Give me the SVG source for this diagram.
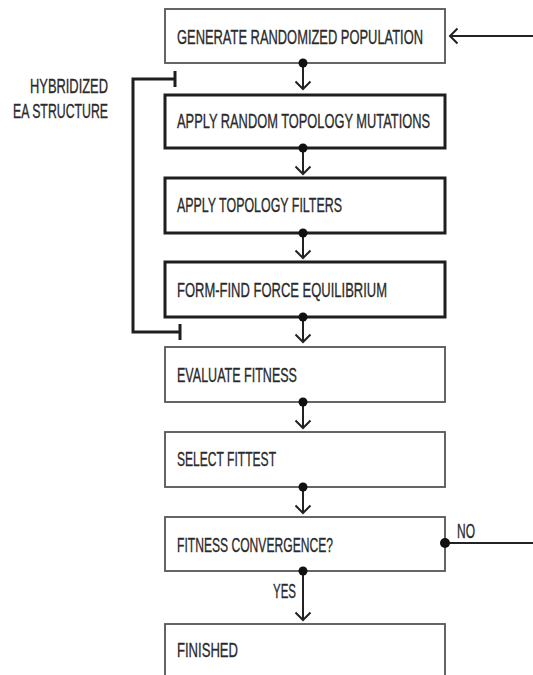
<svg xmlns="http://www.w3.org/2000/svg" width="533" height="675" viewBox="0 0 533 675">
<style>
.box{fill:#fff;stroke:#555;stroke-width:1.8}
.bold{stroke:#1e1e1e;stroke-width:3}
.t{font-family:"Liberation Sans",Arial,sans-serif;font-size:21px;fill:#2a2a2a;stroke:#2a2a2a;stroke-width:0.35}
.c{fill:none;stroke:#222;stroke-width:2}
.b{fill:none;stroke:#1e1e1e;stroke-width:3}
.dot{fill:#111}
</style>
<defs>
<marker id="ah" markerWidth="20" markerHeight="20" refX="10" refY="10" orient="auto" markerUnits="userSpaceOnUse">
<path d="M2.5,2.5 L10,10 L2.5,17.5" fill="none" stroke="#222" stroke-width="2"/>
</marker>
</defs>
<rect width="533" height="675" fill="#fff"/>
<g id="label-hybrid">
<text class="t" transform="translate(108,93) scale(0.62,1)" x="0" y="0" text-anchor="end" textLength="125.8" lengthAdjust="spacingAndGlyphs">HYBRIDIZED</text>
<text class="t" transform="translate(108,118) scale(0.62,1)" x="0" y="0" text-anchor="end" textLength="153.2" lengthAdjust="spacingAndGlyphs">EA STRUCTURE</text>
</g>
<g id="n1"><rect class="box" x="165" y="9" width="280" height="54"/><text class="t" transform="translate(177,44) scale(0.62,1)" textLength="396.8" lengthAdjust="spacingAndGlyphs">GENERATE RANDOMIZED POPULATION</text></g>
<g id="n2"><rect class="box bold" x="165" y="95" width="280" height="53"/><text class="t" transform="translate(177,128) scale(0.62,1)" textLength="408.1" lengthAdjust="spacingAndGlyphs">APPLY RANDOM TOPOLOGY MUTATIONS</text></g>
<g id="n3"><rect class="box bold" x="165" y="178" width="280" height="55"/><text class="t" transform="translate(177,212) scale(0.62,1)" textLength="266.1" lengthAdjust="spacingAndGlyphs">APPLY TOPOLOGY FILTERS</text></g>
<g id="n4"><rect class="box bold" x="165" y="262" width="280" height="55"/><text class="t" transform="translate(177,297) scale(0.62,1)" textLength="338.7" lengthAdjust="spacingAndGlyphs">FORM-FIND FORCE EQUILIBRIUM</text></g>
<g id="n5"><rect class="box" x="165" y="347" width="280" height="55"/><text class="t" transform="translate(177,382) scale(0.62,1)" textLength="193.5" lengthAdjust="spacingAndGlyphs">EVALUATE FITNESS</text></g>
<g id="n6"><rect class="box" x="165" y="432" width="280" height="55"/><text class="t" transform="translate(177,466) scale(0.62,1)" textLength="159.7" lengthAdjust="spacingAndGlyphs">SELECT FITTEST</text></g>
<g id="n7"><rect class="box" x="165" y="517" width="280" height="54"/><text class="t" transform="translate(177,552) scale(0.62,1)" textLength="251.6" lengthAdjust="spacingAndGlyphs">FITNESS CONVERGENCE?</text></g>
<g id="n8"><rect class="box" x="165" y="624" width="280" height="60"/><text class="t" transform="translate(177,657) scale(0.62,1)" textLength="98.4" lengthAdjust="spacingAndGlyphs">FINISHED</text></g>
<g id="connectors">
<path class="c" d="M303,63 V89" marker-end="url(#ah)"/><circle class="dot" cx="303" cy="63" r="4.5"/>
<path class="c" d="M303,148 V174" marker-end="url(#ah)"/><circle class="dot" cx="303" cy="148" r="4.5"/>
<path class="c" d="M303,233 V258" marker-end="url(#ah)"/><circle class="dot" cx="303" cy="233" r="4.5"/>
<path class="c" d="M303,317 V342" marker-end="url(#ah)"/><circle class="dot" cx="303" cy="317" r="4.5"/>
<path class="c" d="M303,402 V428" marker-end="url(#ah)"/><circle class="dot" cx="303" cy="402" r="4.5"/>
<path class="c" d="M303,487 V513" marker-end="url(#ah)"/><circle class="dot" cx="303" cy="487" r="4.5"/>
<path class="c" d="M303,571 V620" marker-end="url(#ah)"/><circle class="dot" cx="303" cy="571" r="4.5"/>
<text class="t" transform="translate(273,598) scale(0.62,1)" textLength="37.1" lengthAdjust="spacingAndGlyphs">YES</text>
<path class="c" d="M445,543 H533"/><circle class="dot" cx="445" cy="543" r="5"/>
<text class="t" transform="translate(457,538) scale(0.62,1)" textLength="29" lengthAdjust="spacingAndGlyphs">NO</text>
<path class="c" d="M533,36 H450" marker-end="url(#ah)"/>
<path class="b" d="M175,79 H133 V332 H180"/>
<path class="b" d="M175,71 V87 M180,324 V340"/>
</g>
</svg>
